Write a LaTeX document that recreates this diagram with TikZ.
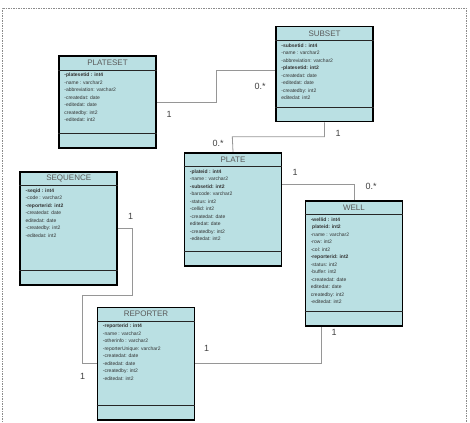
\documentclass[tikz,border=0pt]{standalone}
\usepackage{fontspec}
\setmainfont{Liberation Sans}
\usepackage{xcolor}
\usepackage{tikz}
\usetikzlibrary{positioning,calc,backgrounds}
\definecolor{classfill}{RGB}{186,224,227}
\definecolor{linkgray}{RGB}{150,150,150}
\tikzset{
    classbox/.style={
        rectangle, draw=black, line width=1.6pt, fill=classfill,
        minimum width=97pt, inner sep=0pt
    },
    classtitle/.style={
        font=\fontsize{8}{9}\selectfont, text=black!65, inner sep=0pt
    },
    attrs/.style={
        anchor=north west, align=left, inner sep=0pt, text=black!80,
        font=\fontsize{5}{7.5}\selectfont
    },
    divider/.style={draw=black!85, line width=0.9pt},
    link/.style={draw=linkgray, line width=0.8pt},
    mult/.style={font=\fontsize{9}{10}\selectfont, text=black!75, inner sep=0pt}
}

\begin{document}
\begin{tikzpicture}[x=1pt, y=-1pt]
\useasboundingbox (0,0) rectangle (470,422);

%% dashed page frame
\draw[black!45, dash pattern=on 1.5pt off 1pt] (2,422) -- (2,8) -- (466,8) -- (466,422);

%% Class boxes -- centred at pixel positions
\node[classbox, minimum height=92pt]  (plateset) at (107.5, 102)   {};
\node[classbox, minimum height=95pt]  (subset)   at (324.5, 74.2)  {};
\node[classbox, minimum height=113pt] (plate)    at (233,   209.2) {};
\node[classbox, minimum height=113pt] (sequence) at (68.7,  228.2) {};
\node[classbox, minimum height=125pt] (well)     at (353.9, 263.2) {};
\node[classbox, minimum height=112.7pt] (reporter) at (146, 363.7) {};

%% PLATESET
\node[classtitle] (platesettitle) at ([yshift=-7.5pt]plateset.north) {PLATESET};
\draw[divider] ([yshift=-15pt]plateset.north west) -- ([yshift=-15pt]plateset.north east);
\draw[divider] ([yshift=15.5pt]plateset.south west) -- ([yshift=15.5pt]plateset.south east);
\node[attrs] (platesetattrs) at ([xshift=6pt,yshift=-17.5pt]plateset.north west)
    {\textbf{-platesetid : int4}\\-name : varchar2\\-abbreviation: varchar2\\-createdat: date\\-editedat: date\\ createdby: int2\\-editedat: int2};

%% SUBSET
\node[classtitle] (subsettitle) at ([yshift=-7.5pt]subset.north) {SUBSET};
\draw[divider] ([yshift=-15pt]subset.north west) -- ([yshift=-15pt]subset.north east);
\draw[divider] ([yshift=15pt]subset.south west) -- ([yshift=15pt]subset.south east);
\node[attrs] (subsetattrs) at ([xshift=6pt,yshift=-17.5pt]subset.north west)
    {\textbf{-subsetid : int4}\\-name : varchar2\\-abbreviation: varchar2\\\textbf{-platesetid: int2}\\-createdat: date\\-editedat: date\\-createdby: int2\\ editedat: int2};

%% PLATE
\node[classtitle] (platetitle) at ([yshift=-7.5pt]plate.north) {PLATE};
\draw[divider] ([yshift=-15pt]plate.north west) -- ([yshift=-15pt]plate.north east);
\draw[divider] ([yshift=15.5pt]plate.south west) -- ([yshift=15.5pt]plate.south east);
\node[attrs] (plateattrs) at ([xshift=6pt,yshift=-17.5pt]plate.north west)
    {\textbf{-plateid : int4}\\-name : varchar2\\\textbf{-subsetid: int2}\\-barcode: varchar2\\-status: int2\\-cellid: int2\\-createdat: date\\ editedat: date\\-createdby: int2\\-editedat: int2};

%% SEQUENCE
\node[classtitle] (sequencetitle) at ([yshift=-7.5pt]sequence.north) {SEQUENCE};
\draw[divider] ([yshift=-15pt]sequence.north west) -- ([yshift=-15pt]sequence.north east);
\draw[divider] ([yshift=15.5pt]sequence.south west) -- ([yshift=15.5pt]sequence.south east);
\node[attrs] (sequenceattrs) at ([xshift=6pt,yshift=-17.5pt]sequence.north west)
    {\textbf{-seqid : int4}\\-code : varchar2\\\textbf{-reporterid: int2}\\-createdat: date\\ editedat: date\\-createdby: int2\\-editedat: int2};

%% WELL
\node[classtitle] (welltitle) at ([yshift=-7.5pt]well.north) {WELL};
\draw[divider] ([yshift=-15pt]well.north west) -- ([yshift=-15pt]well.north east);
\draw[divider] ([yshift=15pt]well.south west) -- ([yshift=15pt]well.south east);
\node[attrs] (wellattrs) at ([xshift=6pt,yshift=-17.5pt]well.north west)
    {\textbf{-wellid : int4}\\\textbf{ plateid: int2}\\-name : varchar2\\-row: int2\\-col: int2\\\textbf{-reporterid: int2}\\-status: int2\\-buffer: int2\\-createdat: date\\ editedat: date\\ createdby: int2\\-editedat: int2};

%% REPORTER
\node[classtitle] (reportertitle) at ([yshift=-7.5pt]reporter.north) {REPORTER};
\draw[divider] ([yshift=-15pt]reporter.north west) -- ([yshift=-15pt]reporter.north east);
\draw[divider] ([yshift=15.5pt]reporter.south west) -- ([yshift=15.5pt]reporter.south east);
\node[attrs] (reporterattrs) at ([xshift=6pt,yshift=-17.5pt]reporter.north west)
    {\textbf{-reporterid : int4}\\-name : varchar2\\-otherinfo : varchar2\\-reporterUnique: varchar2\\-createdat: date\\-editedat: date\\-createdby: int2\\-editedat: int2};

%% bend points of the links
\coordinate (pssbend)  at (216.7, 70.7);
\coordinate (sbpbend)  at (232.3, 136.7);
\coordinate (seqbendA) at (132.7, 295);
\coordinate (seqbendB) at (82.3, 295);
\coordinate (platewell) at ([yshift=-32.3pt]plate.north east);
\coordinate (wellfoot)  at ([xshift=-32.2pt]well.south);

%% links, kept behind the boxes
\begin{scope}[on background layer]
\draw[link] (plateset.east) -| (pssbend) -- (pssbend -| subset.west);
\draw[link] (subset.south) |- (sbpbend) -- (plate.north);
\draw[link] (platewell) -| (well.north);
\draw[link] (sequence.east) -| (seqbendA) -- (seqbendB) |- (reporter.west);
\draw[link] (reporter.east) -| (wellfoot);
\end{scope}

%% multiplicities
\node[mult] (m1)  at (169, 114)   {1};
\node[mult] (m2)  at (260, 86)    {0.*};
\node[mult] (m3)  at (338, 133)   {1};
\node[mult] (m4)  at (218, 143)   {0.*};
\node[mult] (m5)  at (295, 172)   {1};
\node[mult] (m6)  at (371, 186.7) {0.*};
\node[mult] (m7)  at (130.7, 216) {1};
\node[mult] (m8)  at (82.7, 376)  {1};
\node[mult] (m9)  at (206.7, 348.3) {1};
\node[mult] (m10) at (334, 332.3) {1};

\end{tikzpicture}
\end{document}
